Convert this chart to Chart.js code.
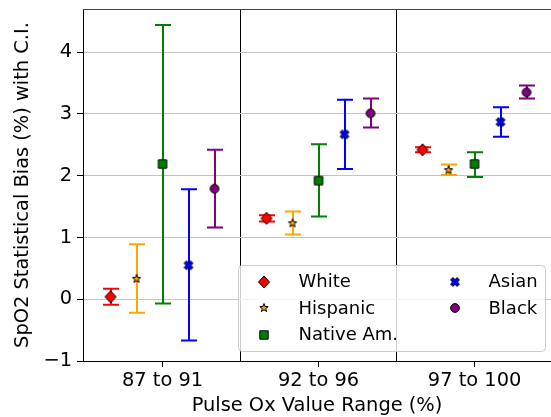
<!DOCTYPE html>
<html>
<head>
<meta charset="utf-8">
<script src="https://cdn.jsdelivr.net/npm/chart.js@4"></script>
<style>
  html, body { margin: 0; padding: 0; background: #fff; }
</style>
</head>
<body>
<canvas id="myChart" width="551" height="417"></canvas>
<script>
// categories + y ticks
const categories = ['87 to 91', '92 to 96', '97 to 100'];
const yTicks = [-1, 0, 1, 2, 3, 4];
const groupNames = ['White', 'Hispanic', 'Native Am.', 'Asian', 'Black'];

// mean bias and C.I. per range
const whiteMean = [0.04, 1.31, 2.42];
const whiteLow = [-0.09, 1.26, 2.38];
const whiteHigh = [0.17, 1.36, 2.46];
const hispanicMean = [0.33, 1.23, 2.09];
const hispanicLow = [-0.22, 1.05, 2.01];
const hispanicHigh = [0.89, 1.42, 2.18];
const nativeMean = [2.19, 1.92, 2.19];
const nativeLow = [-0.07, 1.34, 1.98];
const nativeHigh = [4.44, 2.51, 2.38];
const asianMean = [0.55, 2.67, 2.87];
const asianLow = [-0.67, 2.11, 2.63];
const asianHigh = [1.78, 3.23, 3.11];
const blackMean = [1.79, 3.01, 3.35];
const blackLow = [1.16, 2.78, 3.25];
const blackHigh = [2.42, 3.25, 3.46];

const FONT = 'DejaVu Sans';

// little canvases used as point styles (matplotlib-like markers)
function makeMarker(draw) {
  const c = document.createElement('canvas');
  c.width = 16; c.height = 16;
  const g = c.getContext('2d');
  g.translate(8, 8);
  draw(g);
  return c;
}
function poly(g, pts, fill) {
  g.beginPath();
  pts.forEach((p, i) => i ? g.lineTo(p[0], p[1]) : g.moveTo(p[0], p[1]));
  g.closePath();
  g.fillStyle = fill;
  g.fill();
  g.lineWidth = 1;
  g.strokeStyle = '#000';
  g.stroke();
}
const diamond = makeMarker(g => poly(g, [[0, -6], [5.5, 0], [0, 6], [-5.5, 0]], '#ff0000'));
const star = makeMarker(g => {
  let pts = [];
  for (let i = 0; i < 10; i++) {
    let r = i % 2 ? 1.8 : 4.4;
    let a = -Math.PI / 2 + i * Math.PI / 5;
    pts.push([r * Math.cos(a), r * Math.sin(a)]);
  }
  poly(g, pts, '#ffa500');
});
const square = makeMarker(g => poly(g, [[-4.2, -4.2], [4.2, -4.2], [4.2, 4.2], [-4.2, 4.2]], '#008000'));
const cross = makeMarker(g => {
  const e = 4.6, w = 1.7;
  let base = [[-w, -e], [w, -e], [w, -w], [e, -w], [e, w], [w, w], [w, e], [-w, e], [-w, w], [-e, w], [-e, -w], [-w, -w]];
  let c = Math.SQRT1_2;
  poly(g, base.map(p => [p[0] * c - p[1] * c, p[0] * c + p[1] * c]), '#0000ff');
});
const circle = makeMarker(g => {
  g.beginPath();
  g.arc(0, 0, 4.4, 0, Math.PI * 2);
  g.fillStyle = '#800080';
  g.fill();
  g.lineWidth = 1;
  g.strokeStyle = '#000';
  g.stroke();
});

const means = [whiteMean, hispanicMean, nativeMean, asianMean, blackMean];
const lows = [whiteLow, hispanicLow, nativeLow, asianLow, blackLow];
const highs = [whiteHigh, hispanicHigh, nativeHigh, asianHigh, blackHigh];
const colors = ['#ff0000', '#ffa500', '#008000', '#0000ff', '#800080'];
const markers = [diamond, star, square, cross, circle];
const offsets = [-1 / 3, -1 / 6, 0, 1 / 6, 1 / 3];

const datasets = groupNames.map((name, k) => ({
  label: name,
  data: means[k].map((v, i) => ({ x: i + offsets[k], y: v })),
  errLow: lows[k],
  errHigh: highs[k],
  errColor: colors[k],
  pointStyle: markers[k],
  pointRadius: 1,
  pointBorderWidth: 0,
  backgroundColor: colors[k],
  borderColor: '#000'
}));

// vertical C.I. bars with caps
const errorBars = {
  id: 'errorBars',
  beforeDatasetsDraw(chart) {
    const ctx = chart.ctx, xs = chart.scales.x, ys = chart.scales.y;
    chart.data.datasets.forEach(ds => {
      ctx.save();
      ctx.strokeStyle = ds.errColor;
      ctx.lineWidth = 2;
      ds.data.forEach((p, i) => {
        const px = Math.round(xs.getPixelForValue(p.x));
        const lo = ys.getPixelForValue(ds.errLow[i]);
        const hi = ys.getPixelForValue(ds.errHigh[i]);
        ctx.beginPath();
        ctx.moveTo(px, lo); ctx.lineTo(px, hi);
        ctx.moveTo(px - 8, lo); ctx.lineTo(px + 8, lo);
        ctx.moveTo(px - 8, hi); ctx.lineTo(px + 8, hi);
        ctx.stroke();
      });
      ctx.restore();
    });
  }
};

// top spine + 2 column legend box in the lower right
const legendBox = {
  id: 'legendBox',
  afterDraw(chart) {
    const ctx = chart.ctx, area = chart.chartArea;
    ctx.save();
    ctx.strokeStyle = '#444';
    ctx.lineWidth = 1;
    ctx.beginPath();
    ctx.moveTo(area.left, area.top + 0.5);
    ctx.lineTo(area.right, area.top + 0.5);
    ctx.stroke();

    const w = 307, h = 86;
    const left = 238.5, top = area.bottom - 10 - h + 0.5;
    ctx.beginPath();
    ctx.roundRect(left, top, w, h, 4);
    ctx.fillStyle = 'rgba(255,255,255,0.8)';
    ctx.fill();
    ctx.strokeStyle = '#cccccc';
    ctx.stroke();

    ctx.font = '18px "' + FONT + '"';
    ctx.fillStyle = '#000';
    ctx.textBaseline = 'middle';
    const rows = [16, 42.5, 69];
    groupNames.forEach((name, k) => {
      const col = k < 3 ? 0 : 1;
      const row = k < 3 ? k : k - 3;
      const mx = left + (col ? 216 : 25);
      const tx = left + (col ? 250 : 60);
      const y = top + rows[row];
      ctx.drawImage(markers[k], Math.round(mx - 8), Math.round(y - 8));
      ctx.fillText(name, tx, y + 1);
    });
    ctx.restore();
  }
};

const tickFont = { family: FONT, size: 19.4 };
const clear = 'rgba(0,0,0,0)';

var ctx = document.getElementById('myChart').getContext('2d');
var chart = new Chart(ctx, {
  type: 'scatter',
  data: { datasets: datasets },
  options: {
    responsive: false,
    animation: false,
    layout: { autoPadding: false, padding: { top: 9, right: 0, left: 0, bottom: 0 } },
    plugins: {
      legend: { display: false },
      tooltip: { enabled: false }
    },
    scales: {
      x: {
        type: 'linear',
        min: -0.51,
        max: 2.49,
        afterBuildTicks: s => { s.ticks = [0, 0.5, 1, 1.5, 2].map(v => ({ value: v })); },
        afterFit: s => { s.height = 56; s.paddingLeft = 0; s.paddingRight = 0; },
        ticks: {
          autoSkip: false,
          maxRotation: 0,
          padding: 2,
          color: '#000',
          font: tickFont,
          callback: v => Number.isInteger(v) ? categories[v] : ''
        },
        grid: {
          color: c => (c.tick && !Number.isInteger(c.tick.value)) ? '#000' : clear,
          tickColor: c => (c.tick && Number.isInteger(c.tick.value)) ? '#000' : clear,
          tickLength: 6,
          lineWidth: 1
        },
        border: { color: '#000', width: 1 },
        title: { display: true, text: 'Pulse Ox Value Range (%)', color: '#000', font: tickFont, padding: { top: 0, bottom: -1 } }
      },
      y: {
        min: -1,
        max: 4.7,
        afterBuildTicks: s => { s.ticks = yTicks.map(v => ({ value: v })); },
        afterFit: s => { s.width = 83; s.paddingTop = 0; s.paddingBottom = 0; },
        ticks: {
          padding: 5,
          color: '#000',
          font: tickFont,
          callback: v => v < 0 ? '\u2212' + Math.abs(v) : String(v)
        },
        grid: {
          color: c => (c.tick && c.tick.value === -1) ? clear : '#c4c4c4',
          tickColor: '#000',
          tickLength: 6,
          lineWidth: 1
        },
        border: { color: '#000', width: 1 },
        title: { display: true, text: 'SpO2 Statistical Bias (%) with C.I.', color: '#000', font: tickFont, padding: { top: 11, bottom: 0 } }
      }
    }
  },
  plugins: [errorBars, legendBox]
});
</script>
</body>
</html>
